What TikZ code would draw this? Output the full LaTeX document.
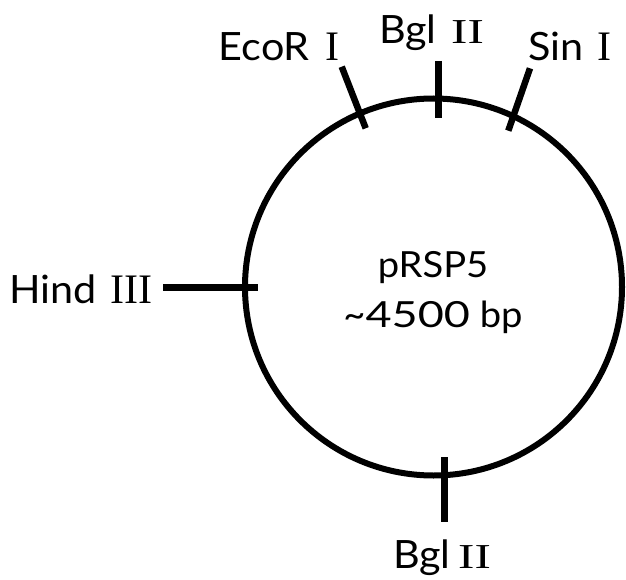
\documentclass[tikz,border=0pt]{standalone}
\usepackage{graphicx}
\usepackage{fontspec}
\setmainfont{Lato}[FakeStretch=1.06]
\newfontfamily\digitfont{Lato}[FakeStretch=1.25]
\newfontfamily\numeralfont{Liberation Serif}
\begin{document}
\begin{tikzpicture}[x=1pt,y=-1pt,
  site/.style={line width=6.5pt},
  sitename/.style={font=\fontsize{39}{40}\selectfont, inner sep=0pt, anchor=base west},
  sitenum/.style={font=\numeralfont\fontsize{42}{40}\selectfont, inner sep=0pt, anchor=base west},
  bglnum/.style={font=\numeralfont\fontsize{35}{40}\selectfont, inner sep=0pt, anchor=base west}]
\useasboundingbox (0,0) rectangle (626,580);
% plasmid backbone
\node[circle, draw, line width=6pt, minimum size=377pt, inner sep=0pt] (plasmid) at (433.5,287) {};
\node[font=\fontsize{36}{50}\selectfont, align=center, inner sep=0pt, anchor=base] (name) at (433,327.3)
  {pRSP5\\\textasciitilde{\digitfont 4500} bp};
% restriction site ticks
\coordinate (ecoA) at (341.7,66.7);  \coordinate (ecoB) at (365.7,128.3);
\coordinate (bglA) at (438.3,61);    \coordinate (bglB) at (438.3,118.3);
\coordinate (sinA) at (530,68.3);    \coordinate (sinB) at (508.3,130.7);
\coordinate (hinA) at (163.3,287.3); \coordinate (hinB) at (258.3,287.3);
\coordinate (bgbA) at (444.3,457.3); \coordinate (bgbB) at (444.3,521.7);
\draw[site] (ecoA) -- (ecoB);
\draw[site] (bglA) -- (bglB);
\draw[site] (sinA) -- (sinB);
\draw[site] (hinA) -- (hinB);
\draw[site] (bgbA) -- (bgbB);
% site labels: enzyme name in sans, roman numeral in serif
\node[sitename] (eco) at (218.5,60.7) {EcoR};
\node[sitenum]  (ecoN) at (325.7,60.7) {I};
\node[sitename] (bgl) at (379,43.3) {Bgl};
\node[bglnum]   (bglN) at (451,43.3) {\scalebox{1.4}[1]{II}};
\node[sitename] (sin) at (528,60.7) {Sin};
\node[sitenum]  (sinN) at (597,60.7) {I};
\node[sitename] (hin) at (9.5,303.3) {Hind};
\node[sitenum]  (hinN) at (110.7,303.3) {III};
\node[sitename] (bgb) at (393,568.3) {Bgl};
\node[bglnum]   (bgbN) at (458,568.3) {\scalebox{1.4}[1]{II}};
\end{tikzpicture}
\end{document}
